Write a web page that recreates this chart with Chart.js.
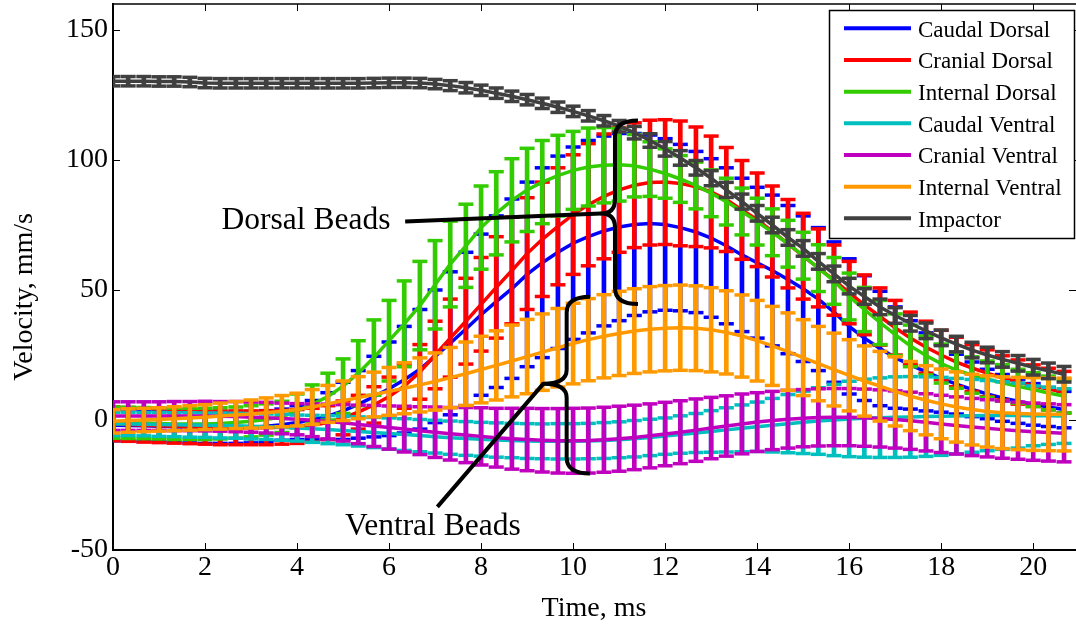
<!DOCTYPE html>
<html><head><meta charset="utf-8">
<script src="https://cdn.jsdelivr.net/npm/chart.js@4.4.1/dist/chart.umd.min.js"></script>
<style>html,body{margin:0;padding:0;background:#fff;overflow:hidden}canvas{display:block}</style>
</head><body>
<canvas id="c" width="1076" height="627"></canvas>
<script>
// ---- data (time in ms, velocity in mm/s; mean and standard deviation per bead group) ----
const time = [
  0, 0.33, 0.67, 1, 1.33, 1.67, 2, 2.33, 2.67, 3, 3.33, 3.67, 4, 4.33, 4.67,
  5, 5.33, 5.67, 6, 6.33, 6.67, 7, 7.33, 7.67, 8, 8.33, 8.67, 9, 9.33, 9.67,
  10, 10.33, 10.67, 11, 11.33, 11.67, 12, 12.33, 12.67, 13, 13.33, 13.67, 14, 14.33, 14.67,
  15, 15.33, 15.67, 16, 16.33, 16.67, 17, 17.33, 17.67, 18, 18.33, 18.67, 19, 19.33, 19.67,
  20, 20.33, 20.67
];
const caudalDorsalMean = [
  -2,-2.1,-2.2, -2.4,-2.6,-2.8, -3,-3,-3, -2.8,-2.4,-1.8, -1,0,1.5,
  3.5,6,9, 12,15.5,19.5, 24.5,29.5,35, 40.5,45.5,50.5, 56,60.5,64.5,
  68,70.5,72.7, 74.2,75.2,75.6, 75.2,74,72.3, 70,67,63.5, 60.5,57.5,54,
  50.5,46.5,41.5, 36,31.5,27.5, 24,21.2,18.5, 16,13.8,11.8, 10,8.5,7.2,
  6,5,4
];
const caudalDorsalSD = [
  6,6,6, 6,6,6, 6,6,6, 6,6,6, 6.5,7.5,9,
  11,13,15.5, 18,20.5,23, 25.5,27.5,29.5, 31,33,34.5, 35.5,36.5,37,
  37,37,36.5, 36,35,34, 33,32,31, 30.5,30,29.5, 29,29,28.5,
  28,27.5,27, 26,24,22, 19.5,17,15, 13,11.5,10.5, 9.5,9,8.5,
  8,7.5,7
];
const cranialDorsalMean = [
  -1.5,-1.7,-2, -2.2,-2.4,-2.6, -2.8,-3,-3, -3,-3,-2.8, -2.5,-2,-1,
  0.8,3,5.8, 9,13,18.5, 25,31.5,38, 44.5,51,57.5, 64,69.5,74.5,
  79,82.8,86, 88.5,90.3,91.3, 91.5,91,89.7, 87.7,84.8,80.8, 77,72.5,67.8,
  63,58.5,53.8, 49,44.3,39.8, 35.5,31.5,28, 25,22.3,20, 18,16.2,14.6,
  13.2,11.9,10.7
];
const cranialDorsalSD = [
  6.5,6.5,6.5, 6.5,6.5,6.5, 6.5,6.5,6.5, 6.5,6.5,6.5, 6.5,6.5,6.5,
  6.5,6.5,7, 7.5,8.5,10.5, 13,15,16.5, 18,19.5,20.5, 21.5,22,22.5,
  23,23.5,24, 24,24,24, 24,24,23, 21.5,20,19, 18,17.5,17,
  16.5,15,13.5, 12,11.5,11, 10.5,10,10, 9.5,9.5,9, 9,8.5,8.5,
  8,8,8
];
const internalDorsalMean = [
  -1,-1.1,-1.2, -1.3,-1.5,-1.5, -1.5,-1.3,-1, -0.5,0.2,1.2, 3.5,6,9,
  13,18,24, 30.5,37,44, 52,60,67, 74,79.5,84.5, 88.5,91.5,94,
  96,97.3,98, 98.2,97.8,96.5, 94.8,92.7,90.2, 87.2,84,80.2, 76.3,72.2,67.8,
  63.2,58.4,53.5, 47.5,42.5,37.5, 32.8,28.5,24.8, 21.7,19.2,17.3, 15.7,14.3,13,
  11.7,10.4,9.2
];
const internalDorsalSD = [
  6,6,6, 6,6,6, 6,6,6, 6,6,6, 6.5,7.5,9,
  10.5,12.5,14.5, 15.5,16.5,17, 17,16.5,16, 16,16,16, 16,16,15.5,
  15,15,14.5, 14,12,10.5, 9.5,9,9, 9,9,9, 9,9,9,
  9,9,9, 9,8.5,8.5, 8,8,7.5, 7.5,7,7, 7,7,6.5,
  6.5,6.5,6.5
];
const caudalVentralMean = [
  -1.5,-1.5,-1.6, -1.7,-1.8,-1.9, -2,-2.1,-2.2, -2.4,-2.6,-2.8, -3.1,-3.4,-3.7,
  -4,-4.4,-4.8, -5.2,-5.6,-6, -6.4,-6.8,-7.1, -7.4,-7.7,-7.9, -8.1,-8.2,-8.2,
  -8.2,-8.1,-7.9, -7.6,-7.2,-6.7, -6.2,-5.6,-5, -4.4,-3.8,-3.2, -2.6,-2,-1.4,
  -0.9,-0.4,0, 0.4,0.7,0.9, 1.1,1.2,1.3, 1.4,1.5,1.6, 1.7,1.7,1.7,
  1.6,1.6,1.5
];
const caudalVentralSD = [
  4.5,4.5,4.5, 4.6,4.6,4.7, 4.7,4.8,4.8, 4.9,4.9,5, 5,5.2,5.4,
  5.5,5.6,5.8, 6,6.1,6.2, 6.3,6.4,6.5, 6.5,6.6,6.6, 6.7,6.7,6.8,
  6.8,6.8,6.9, 6.9,7,7, 7,7.2,7.5, 8,8.5,9, 9.5,10.3,11.2,
  12,12.8,13.7, 14.5,15,15.3, 15.5,15.5,15.3, 15,14.5,14, 13.5,13,12.5,
  11.5,11,10.5
];
const cranialVentralMean = [
  1.5,1.5,1.5, 1.5,1.5,1.5, 1.5,1.4,1.3, 1.1,0.9,0.6, 0.3,-0.1,-0.6,
  -1.1,-1.7,-2.3, -2.9,-3.5,-4.1, -4.7,-5.3,-5.8, -6.3,-6.8,-7.2, -7.5,-7.8,-8,
  -8,-7.9,-7.6, -7.2,-6.7,-6.1, -5.4,-4.7,-3.9, -3.1,-2.3,-1.5, -0.8,-0.2,0.3,
  0.7,1,1.1, 1.1,0.9,0.6, 0.2,-0.3,-0.9, -1.5,-2.1,-2.7, -3.2,-3.7,-4.1,
  -4.5,-4.8,-5.1
];
const cranialVentralSD = [
  5.5,5.5,5.5, 5.5,5.6,5.6, 5.7,5.7,5.8, 5.8,5.9,5.9, 6,6.3,6.7,
  7,7.4,7.9, 8.3,8.8,9.2, 9.7,10.1,10.6, 11,11.3,11.7, 12,12.2,12.4,
  12.5,12.5,12.5, 12.5,12.4,12.3, 12.2,12.1,12, 11.8,11.6,11.5, 11.3,11.2,11.1,
  11,11,11, 11,11,11, 11,11,11, 11,11,11, 11,11,11,
  11,11,11
];
const internalVentralMean = [
  -0.5,-0.2,0, 0.2,0.5,0.8, 1.1,1.5,1.9, 2.3,2.8,3.4, 4,5,6.2,
  7.4,8.6,9.8, 11,12.2,13.5, 14.8,16.3,17.8, 19.4,21,22.7, 24.4,26.1,27.8,
  29.4,30.9,32.2, 33.3,34.2,34.9, 35.3,35.5,35.3, 34.7,33.7,32.3, 30.5,28.5,26.3,
  24,21.7,19.4, 17.2,15,13, 11,9.2,7.6, 6.2,5,4, 3.3,2.8,2.5,
  2.3,2.2,2.1
];
const internalVentralSD = [
  4.5,4.5,4.5, 4.5,4.6,4.7, 4.8,5,5.2, 5.4,5.7,6, 6.3,6.7,7.1,
  7.6,8.1,8.6, 9.2,9.8,10.4, 11,11.6,12.2, 12.8,13.3,13.8, 14.3,14.7,15.1,
  15.5,15.8,16, 16.2,16.3,16.4, 16.4,16.4,16.3, 16.2,16,15.8, 15.5,15.2,14.9,
  14.6,14.3,14, 13.7,13.5,13.4, 13.3,13.3,13.3, 13.4,13.5,13.6, 13.7,13.8,13.9,
  14,14,14
];
const impactorMean = [
  130.3,130.3,130.3, 130.2,130.2,130, 129.6,129.5,129.5, 129.5,129.5,129.5, 129.5,129.5,129.5,
  129.5,129.5,129.6, 129.7,129.7,129.6, 129.2,128.6,127.8, 126.8,125.7,124.5, 123.2,121.8,120.3,
  118.7,117,115.1, 113,110.5,107.5, 104.3,100.8,97, 93,88.5,84, 79.5,75,70.2,
  66,61,56.2, 51.5,47.5,43.5, 40.2,37.2,34.3, 31.6,29.2,26.9, 25,23.3,21.8,
  20.3,18.9,17.6
];
const impactorSD = [
  1.8,1.8,1.8, 1.8,1.8,1.8, 1.8,1.8,1.8, 1.8,1.8,1.8, 1.8,1.8,1.8,
  1.8,1.8,1.8, 1.8,1.8,1.8, 1.8,1.9,2, 2,2,2, 2,2,2,
  2,2,2, 2.2,2.4,2.6, 2.8,2.8,2.8, 2.9,2.9,2.9, 3,3,3,
  3,3,3, 3,3,3, 3,3,3, 3,3,3, 3,3,3,
  3,3,3
];
const seriesNames = ['Caudal Dorsal','Cranial Dorsal','Internal Dorsal','Caudal Ventral','Cranial Ventral','Internal Ventral','Impactor'];
const seriesMeans = [caudalDorsalMean, cranialDorsalMean, internalDorsalMean, caudalVentralMean, cranialVentralMean, internalVentralMean, impactorMean];
const seriesSDs = [caudalDorsalSD, cranialDorsalSD, internalDorsalSD, caudalVentralSD, cranialVentralSD, internalVentralSD, impactorSD];
const xTicks = [0, 2, 4, 6, 8, 10, 12, 14, 16, 18, 20];
const yTicks = [-50, 0, 50, 100, 150];
const xTitle = 'Time, ms';
const yTitle = 'Velocity, mm/s';

// annotation anchors (data units)
const dorsalBrace = {xEnd: 11.41, xMid: 10.91, xTip: 10.61, yTop: 115.2, yTip: 79.4, yBottom: 44.6};
const ventralBrace = {xEnd: 10.37, xMid: 9.86, xTip: 9.35, yTop: 47.4, yTip: 13.9, yBottom: -20.6};
const dorsalLabel = {text: 'Dorsal Beads', x: 2.36, y: 73.35, lineX: 6.35, lineY: 76.3};
const ventralLabel = {text: 'Ventral Beads', x: 5.04, y: -44.2, lineX: 7.05, lineY: -33.4};

// ---- styles ----
const seriesColors = ['#0000ff', '#ff0000', '#33cc00', '#00bfbf', '#bf00bf', '#ff9900', '#404040'];
const SERIF = '"Liberation Serif", "Times New Roman", serif';

const datasets = [];
seriesMeans.forEach((m, s) => {
  const sd = seriesSDs[s];
  const col = seriesColors[s];
  datasets.push({
    type: 'bar', label: seriesNames[s] + ' SD',
    data: time.map((t, i) => ({x: t, y: [m[i] - sd[i], m[i] + sd[i]]})),
    backgroundColor: col, borderWidth: 0, barThickness: 4, grouped: false, clip: 0
  });
  const caps = [];
  time.forEach((t, i) => { caps.push({x: t, y: m[i] - sd[i]}); caps.push({x: t, y: m[i] + sd[i]}); });
  datasets.push({
    type: 'line', label: seriesNames[s] + ' caps', data: caps, showLine: false,
    pointStyle: 'line', pointRadius: 7.5, pointBorderWidth: 3.5,
    pointBorderColor: col, pointBackgroundColor: col, borderColor: col, clip: 0
  });
  datasets.push({
    type: 'line', label: seriesNames[s],
    data: time.map((t, i) => ({x: t, y: m[i]})),
    borderColor: col, borderWidth: 3.5, pointRadius: 0, tension: 0, fill: false, clip: 0
  });
});
datasets.forEach((d, i) => { d.order = datasets.length - i; });

const axesDecor = {
  id: 'axesDecor',
  beforeDatasetsDraw(chart) {
    const {ctx, chartArea: a, scales: {x, y}} = chart;
    ctx.save();
    ctx.strokeStyle = '#000';
    ctx.lineWidth = 1;
    ctx.beginPath();
    xTicks.forEach(v => {
      const px = Math.round(x.getPixelForValue(v)) + 0.5;
      ctx.moveTo(px, a.bottom); ctx.lineTo(px, a.bottom - 7);
      ctx.moveTo(px, a.top); ctx.lineTo(px, a.top + 7);
    });
    yTicks.forEach(v => {
      const py = Math.round(y.getPixelForValue(v)) + 0.5;
      ctx.moveTo(a.left, py); ctx.lineTo(a.left + 7, py);
      ctx.moveTo(a.right, py); ctx.lineTo(a.right - 7, py);
    });
    ctx.stroke();
    ctx.lineWidth = 1.5;
    ctx.beginPath();
    ctx.moveTo(a.left, a.top); ctx.lineTo(a.right, a.top);
    ctx.stroke();
    ctx.restore();
  }
};

function drawBrace(ctx, x, y, b) {
  const xe = x.getPixelForValue(b.xEnd), xm = x.getPixelForValue(b.xMid), xt = x.getPixelForValue(b.xTip);
  const yt = y.getPixelForValue(b.yTop), yc = y.getPixelForValue(b.yTip), yb = y.getPixelForValue(b.yBottom);
  const r = 16, rt = 14;
  ctx.beginPath();
  ctx.moveTo(xe, yt);
  ctx.quadraticCurveTo(xm, yt, xm, yt + r);
  ctx.lineTo(xm, yc - rt);
  ctx.quadraticCurveTo(xm, yc, xt, yc);
  ctx.quadraticCurveTo(xm, yc, xm, yc + rt);
  ctx.lineTo(xm, yb - r);
  ctx.quadraticCurveTo(xm, yb, xe, yb);
  ctx.stroke();
}

const annotations = {
  id: 'annotations',
  afterDatasetsDraw(chart) {
    const {ctx, scales: {x, y}} = chart;
    ctx.save();
    ctx.strokeStyle = '#000';
    ctx.lineWidth = 4;
    ctx.lineJoin = 'round';
    drawBrace(ctx, x, y, dorsalBrace);
    drawBrace(ctx, x, y, ventralBrace);
    ctx.beginPath();
    ctx.moveTo(x.getPixelForValue(dorsalLabel.lineX), y.getPixelForValue(dorsalLabel.lineY));
    ctx.lineTo(x.getPixelForValue(dorsalBrace.xTip), y.getPixelForValue(dorsalBrace.yTip));
    ctx.moveTo(x.getPixelForValue(ventralBrace.xTip), y.getPixelForValue(ventralBrace.yTip));
    ctx.lineTo(x.getPixelForValue(ventralLabel.lineX), y.getPixelForValue(ventralLabel.lineY));
    ctx.stroke();
    ctx.fillStyle = '#000';
    ctx.font = '31.5px ' + SERIF;
    ctx.textAlign = 'left';
    ctx.textBaseline = 'alphabetic';
    [dorsalLabel, ventralLabel].forEach(l => {
      ctx.fillText(l.text, x.getPixelForValue(l.x), y.getPixelForValue(l.y));
    });
    ctx.restore();
  }
};

const legendBox = {
  id: 'legendBox',
  afterDraw(chart) {
    const {ctx} = chart;
    ctx.save();
    ctx.fillStyle = '#fff';
    ctx.fillRect(829.5, 10.5, 245, 228);
    ctx.strokeStyle = '#000';
    ctx.lineWidth = 1.5;
    ctx.strokeRect(829.5, 10.5, 245, 228);
    ctx.font = '23px ' + SERIF;
    ctx.textAlign = 'left';
    ctx.textBaseline = 'alphabetic';
    seriesNames.forEach((n, i) => {
      const yy = 28.3 + i * 31.67;
      ctx.strokeStyle = seriesColors[i];
      ctx.lineWidth = 4;
      ctx.beginPath(); ctx.moveTo(844, yy); ctx.lineTo(911, yy); ctx.stroke();
      ctx.fillStyle = '#000';
      ctx.fillText(n, 918, yy + 8.5);
    });
    // axis titles
    ctx.font = '28px ' + SERIF;
    ctx.textAlign = 'center';
    ctx.fillText(xTitle, 594, 616);
    ctx.translate(32, 297);
    ctx.rotate(-Math.PI / 2);
    ctx.fillText(yTitle, 0, 0);
    ctx.restore();
  }
};

new Chart(document.getElementById('c'), {
  type: 'line',
  data: {datasets},
  plugins: [axesDecor, annotations, legendBox],
  options: {
    responsive: false,
    animation: false,
    events: [],
    layout: {autoPadding: false, padding: {top: 4, left: 0, right: 0, bottom: 0}},
    plugins: {legend: {display: false}, tooltip: {enabled: false}},
    scales: {
      x: {
        type: 'linear', min: 0, max: 20.93, offset: false,
        afterBuildTicks: s => { s.ticks = xTicks.map(v => ({value: v})); },
        afterFit: s => { s.height = 77; s.paddingLeft = 0; s.paddingRight = 0; },
        grid: {display: false, drawTicks: false},
        border: {display: true, color: '#000', width: 2},
        ticks: {color: '#000', font: {family: SERIF, size: 28}, padding: 1, maxRotation: 0, autoSkip: false}
      },
      y: {
        type: 'linear', min: -50, max: 160,
        afterBuildTicks: s => { s.ticks = yTicks.map(v => ({value: v})); },
        afterFit: s => { s.width = 113; s.paddingTop = 0; s.paddingBottom = 0; },
        grid: {display: false, drawTicks: false},
        border: {display: true, color: '#000', width: 2},
        ticks: {color: '#000', font: {family: SERIF, size: 28}, padding: 5}
      }
    }
  }
});
</script>
</body></html>
